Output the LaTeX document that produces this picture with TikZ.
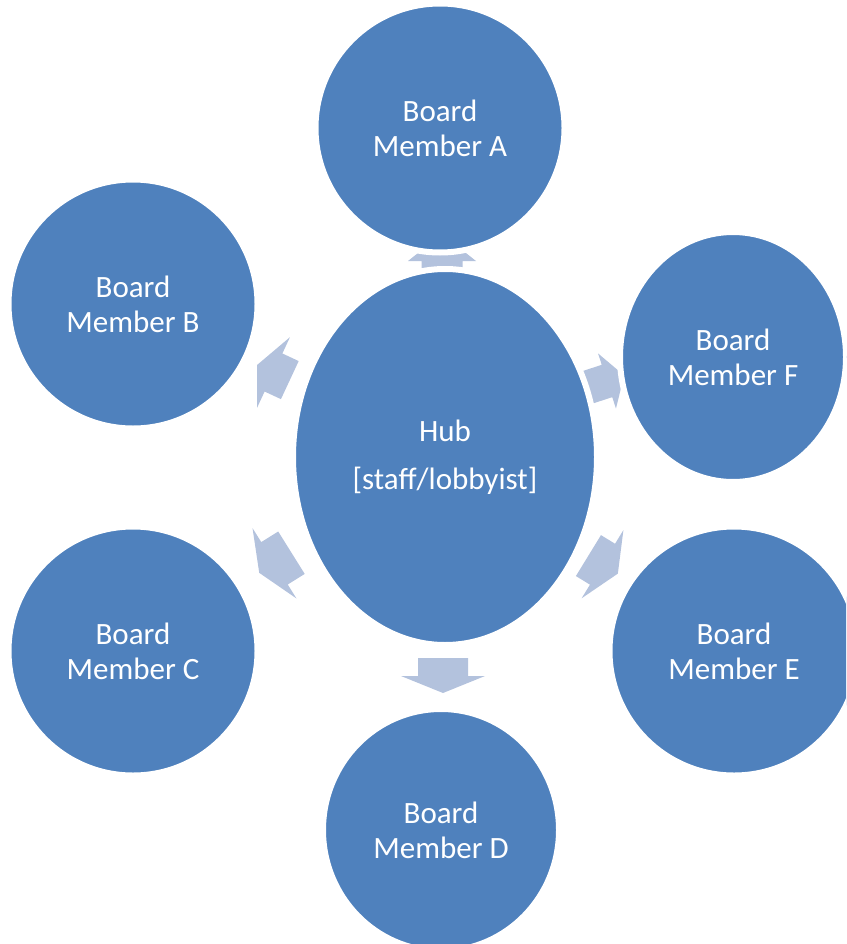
\documentclass[tikz,border=0pt]{standalone}
\usepackage{fontspec}
\setmainfont{Carlito}
\usetikzlibrary{shapes.geometric}
\definecolor{memberblue}{HTML}{4F81BD}
\definecolor{arrowblue}{HTML}{B3C2DD}
\tikzset{
  member/.style={ellipse, fill=memberblue, draw=white, line width=6pt, inner sep=0pt,
    text=white, align=center, font=\fontsize{31}{35}\selectfont},
  blockarrow/.style={fill=arrowblue},
}
\begin{document}
\begin{tikzpicture}[x=1pt, y=-1pt]
    \useasboundingbox (0,0) rectangle (846,944);
    \clip (0,0) rectangle (846,944);
    % block arrows: base x/y, angle, half shaft, half head, tail, tip
    \foreach \bx/\by/\ang/\s/\h/\t/\l in {442/261/90/20.5/34/17/27, 273.5/372.5/155/21/39/18/18,
        274.5/563.3/212/25/41.5/20/18, 443/676/-90/25/42/18/17,
        602.5/564.2/-31.5/24/40/16.5/18, 607/381/18/17/29/20/18} {
        \begin{scope}[shift={(\bx,\by)}, rotate=\ang]
            \fill[blockarrow] (-\t,-\s) -- (0,-\s) -- (0,-\h) -- (\l,0) -- (0,\h) -- (0,\s) -- (-\t,\s) -- cycle;
        \end{scope}
    }
    \node[member, minimum width=304pt, minimum height=376pt] (hub) at (445,457) {Hub\\[13pt][staff/lobbyist]};
    \node[member, minimum width=249pt, minimum height=249pt] (memA) at (440,128) {Board\\Member A};
    \node[member, minimum width=249pt, minimum height=249pt] (memB) at (133,304) {Board\\Member B};
    \node[member, minimum width=249pt, minimum height=249pt] (memC) at (133,651) {Board\\Member C};
    \node[member, minimum width=236pt, minimum height=242pt] (memD) at (441,830) {Board\\Member D};
    \node[member, minimum width=249pt, minimum height=249pt] (memE) at (734,651) {Board\\Member E};
    \node[member, minimum width=226pt, minimum height=250pt] (memF) at (733,357) {Board\\Member F};
\end{tikzpicture}
\end{document}
